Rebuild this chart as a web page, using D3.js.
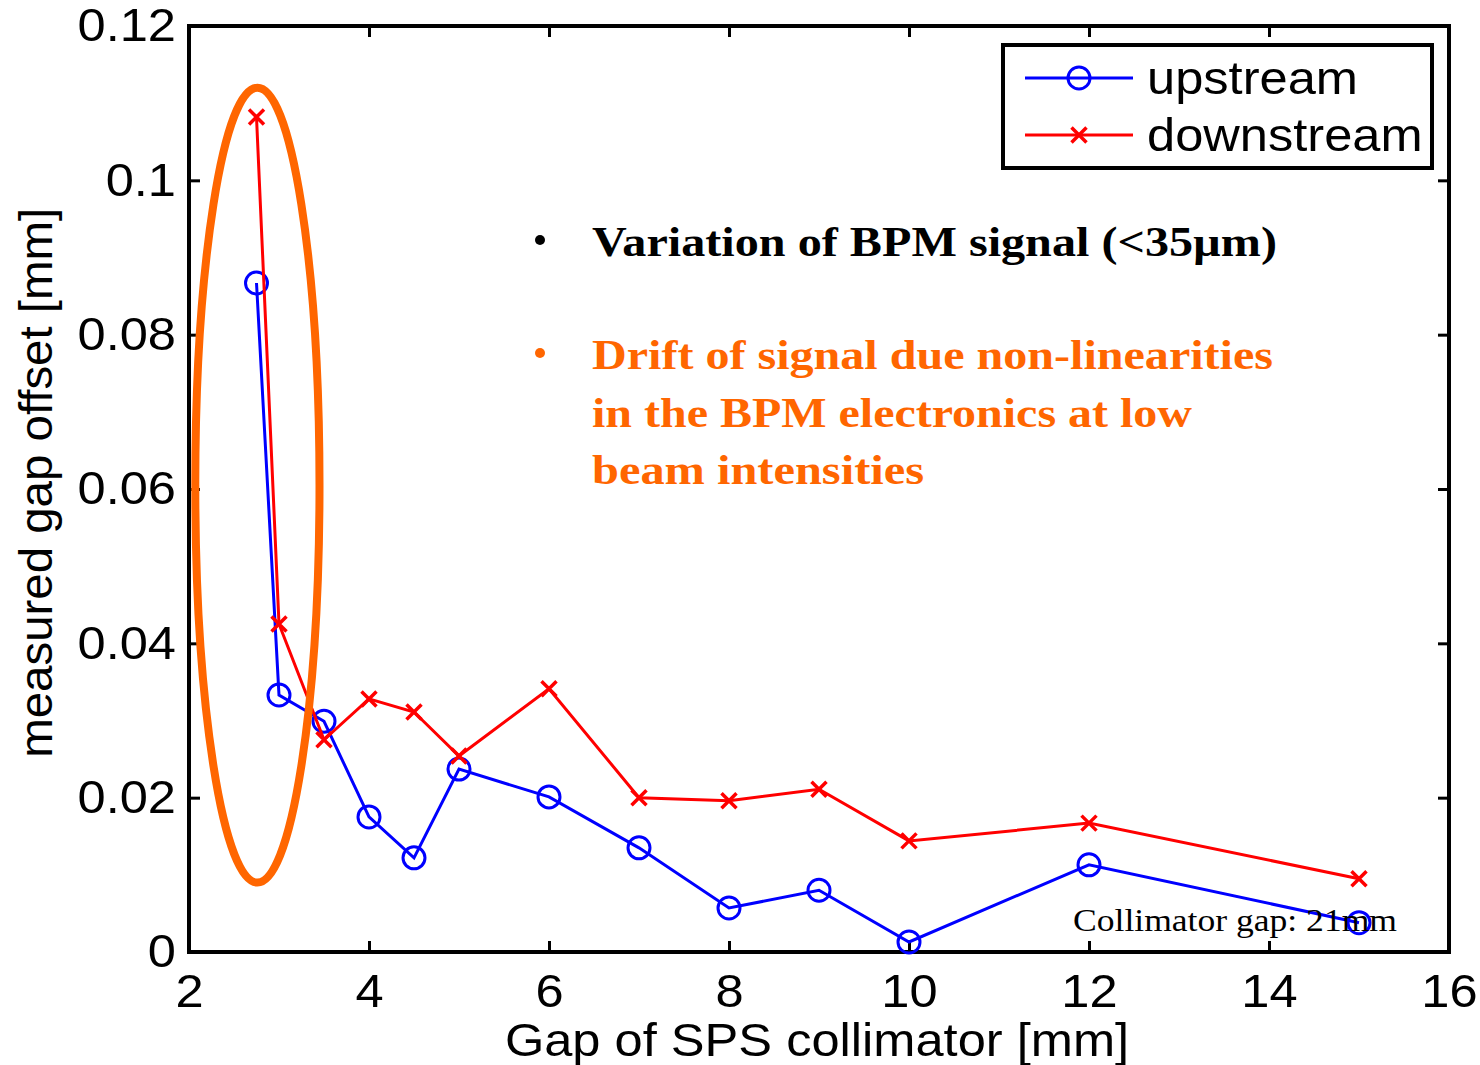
<!DOCTYPE html>
<head>
  <meta charset="utf-8">
  <script src="https://d3js.org/d3.v7.min.js"></script>
  <style type="text/css">
    body { margin: 0; background: #fff; }
    svg { display: block; }
    .tick text { font-family: "Liberation Sans", Arial, sans-serif; font-size: 46px; }
  </style>
</head>

<body>
  <script type="text/javascript">
    // gap of SPS collimator [mm]
    var gaps = [2.75, 3, 3.5, 4, 4.5, 5, 6, 7, 8, 9, 10, 12, 15];
    // measured gap offset [mm]
    var upstream = [0.0867, 0.0333, 0.0299, 0.0175, 0.0122, 0.0237, 0.0201, 0.0135, 0.0057, 0.0080, 0.0013, 0.0113, 0.0038];
    var downstream = [0.1082, 0.0425, 0.0275, 0.0328, 0.0311, 0.0254, 0.0341, 0.0200, 0.0196, 0.0211, 0.0144, 0.0167, 0.0095];
    var xTicks = [2, 4, 6, 8, 10, 12, 14, 16];
    var yTicks = [0, 0.02, 0.04, 0.06, 0.08, 0.1, 0.12];
    var yTickLabels = ["0", "0.02", "0.04", "0.06", "0.08", "0.1", "0.12"];
    var seriesNames = ["upstream", "downstream"];
    var noteBlack = ["Variation of  BPM signal (<35\u00b5m)"];
    var noteOrange = ["Drift of  signal due non-linearities", "in the BPM electronics at low", "beam intensities"];

    var margin = { top: 26, right: 31, bottom: 113, left: 189 },
      width = 1480 - margin.left - margin.right,
      height = 1065 - margin.top - margin.bottom;

    var sans = "'Liberation Sans', Arial, sans-serif";
    var serif = "'Liberation Serif', 'DejaVu Serif', serif";

    // the original picture is a little wider than tall, so stretch sans text
    function stretch(sel, k) {
      sel.each(function() {
        var w = this.getComputedTextLength();
        d3.select(this).attr("textLength", w * k).attr("lengthAdjust", "spacingAndGlyphs");
      });
    }

    var svg = d3.select("body").append("svg")
      .attr("width", 1480)
      .attr("height", 1065)
      .append("g")
      .attr("transform", "translate(" + [margin.left, margin.top] + ")");

    var xScale = d3.scaleLinear().domain([2, 16]).range([0, width]);
    var yScale = d3.scaleLinear().domain([0, 0.12]).range([height, 0]);

    // axes, ticks pointing inward, mirrored on top/right
    var tl = 11;
    svg.append("g")
      .attr("transform", "translate(0," + height + ")")
      .call(d3.axisBottom(xScale).tickValues(xTicks).tickSize(-tl).tickPadding(22).tickFormat(d3.format("d")));
    svg.append("g")
      .call(d3.axisTop(xScale).tickValues(xTicks).tickSize(-tl).tickFormat(""));
    svg.append("g")
      .call(d3.axisLeft(yScale).tickValues(yTicks).tickSize(-tl).tickPadding(13)
        .tickFormat(function(d, i) { return yTickLabels[i]; }));
    svg.append("g")
      .attr("transform", "translate(" + width + ",0)")
      .call(d3.axisRight(yScale).tickValues(yTicks).tickSize(-tl).tickFormat(""));

    svg.selectAll(".domain").remove();
    svg.selectAll(".tick line").attr("stroke", "#000").attr("stroke-width", 3);
    svg.selectAll(".tick text").attr("fill", "#000").call(stretch, 1.1);

    svg.append("rect")
      .attr("width", width).attr("height", height)
      .attr("fill", "none").attr("stroke", "#000").attr("stroke-width", 4);

    // axis labels
    svg.append("text")
      .attr("x", xScale(9) - 2).attr("y", height + 104)
      .attr("text-anchor", "middle")
      .style("font-family", sans)
      .style("font-size", "46px")
      .text("Gap of SPS collimator [mm]")
      .call(stretch, 1.1);
    svg.append("text")
      .attr("transform", "translate(" + (-137) + "," + yScale(0.0608) + ") rotate(-90)")
      .attr("text-anchor", "middle")
      .attr("textLength", 550).attr("lengthAdjust", "spacingAndGlyphs")
      .style("font-family", sans)
      .style("font-size", "46px")
      .text("measured gap offset [mm]");

    var line = d3.line()
      .x(function(d) { return xScale(d[0]); })
      .y(function(d) { return yScale(d[1]); });

    var upData = gaps.map(function(g, i) { return [g, upstream[i]]; });
    var downData = gaps.map(function(g, i) { return [g, downstream[i]]; });

    function crossPath(cx, cy, s) {
      return "M" + (cx - s) + "," + (cy - s) + "L" + (cx + s) + "," + (cy + s) +
        "M" + (cx - s) + "," + (cy + s) + "L" + (cx + s) + "," + (cy - s);
    }

    // upstream
    svg.append("path").datum(upData)
      .attr("fill", "none").attr("stroke", "#0000ff").attr("stroke-width", 3)
      .attr("d", line);
    svg.selectAll("circle.up").data(upData).enter().append("circle")
      .attr("class", "up")
      .attr("cx", function(d) { return xScale(d[0]); })
      .attr("cy", function(d) { return yScale(d[1]); })
      .attr("r", 11)
      .attr("fill", "none").attr("stroke", "#0000ff").attr("stroke-width", 3);

    // downstream
    svg.append("path").datum(downData)
      .attr("fill", "none").attr("stroke", "#ff0000").attr("stroke-width", 3)
      .attr("d", line);
    svg.selectAll("path.down").data(downData).enter().append("path")
      .attr("class", "down")
      .attr("d", function(d) { return crossPath(xScale(d[0]), yScale(d[1]), 7.5); })
      .attr("stroke", "#ff0000").attr("stroke-width", 3.5);

    // orange ellipse round the low-gap points
    svg.append("ellipse")
      .attr("cx", xScale(2.76)).attr("cy", yScale(0.0605))
      .attr("rx", xScale(2.76) - xScale(2.07)).attr("ry", yScale(0.0090) - yScale(0.0605))
      .attr("fill", "none").attr("stroke", "#ff6600").attr("stroke-width", 8);

    // notes
    svg.append("circle").attr("cx", 540 - margin.left).attr("cy", 240 - margin.top).attr("r", 5).attr("fill", "#000");
    svg.append("text")
      .attr("x", 592 - margin.left).attr("y", 256 - margin.top)
      .attr("textLength", 685).attr("lengthAdjust", "spacingAndGlyphs")
      .style("font-family", serif).style("font-weight", "bold").style("font-size", "42px")
      .attr("fill", "#000")
      .text(noteBlack[0]);

    var noteW = [681, 600, 332];
    svg.append("circle").attr("cx", 540 - margin.left).attr("cy", 353 - margin.top).attr("r", 5).attr("fill", "#ff6600");
    svg.selectAll("text.orange").data(noteOrange).enter().append("text")
      .attr("class", "orange")
      .attr("x", 592 - margin.left)
      .attr("y", function(d, i) { return 369 - margin.top + i * 57.5; })
      .attr("textLength", function(d, i) { return noteW[i]; })
      .attr("lengthAdjust", "spacingAndGlyphs")
      .style("font-family", serif).style("font-weight", "bold").style("font-size", "42px")
      .attr("fill", "#ff6600")
      .text(function(d) { return d; });

    svg.append("text")
      .attr("x", 1073 - margin.left).attr("y", 931 - margin.top)
      .attr("textLength", 324).attr("lengthAdjust", "spacingAndGlyphs")
      .style("font-family", serif).style("font-size", "31px")
      .attr("fill", "#000")
      .text("Collimator gap: 21mm");

    // legend
    var legend = svg.append("g").attr("transform", "translate(" + (1003 - margin.left) + "," + (45 - margin.top) + ")");
    legend.append("rect")
      .attr("width", 429).attr("height", 123)
      .attr("fill", "#fff").attr("stroke", "#000").attr("stroke-width", 4);
    var rows = legend.selectAll("g.row").data(seriesNames).enter().append("g")
      .attr("class", "row")
      .attr("transform", function(d, i) { return "translate(0," + (33 + i * 57) + ")"; });
    rows.append("line")
      .attr("x1", 22).attr("x2", 130)
      .attr("stroke", function(d, i) { return i ? "#ff0000" : "#0000ff"; })
      .attr("stroke-width", 3);
    rows.filter(function(d, i) { return i === 0; }).append("circle")
      .attr("cx", 76).attr("r", 11)
      .attr("fill", "none").attr("stroke", "#0000ff").attr("stroke-width", 3);
    rows.filter(function(d, i) { return i === 1; }).append("path")
      .attr("d", crossPath(76, 0, 7.5))
      .attr("stroke", "#ff0000").attr("stroke-width", 3.5);
    rows.append("text")
      .attr("x", 144).attr("y", 16)
      .style("font-family", sans)
      .style("font-size", "46px")
      .text(function(d) { return d; })
      .call(stretch, 1.1);
  </script>
</body>
